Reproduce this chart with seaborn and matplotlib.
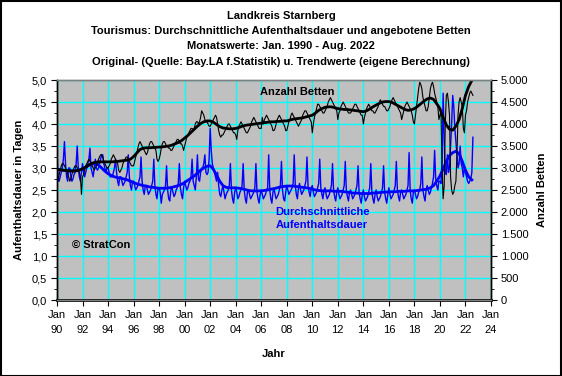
import numpy as np
import pandas as pd
import matplotlib
matplotlib.use("Agg")
import matplotlib.pyplot as plt
import seaborn as sns
from matplotlib.ticker import MultipleLocator, FuncFormatter, FixedLocator

# --- Daten: Monatswerte Jan. 1990 - Aug. 2022 ---
jahre = list(range(1990, 2023))

# Durchschnittliche Aufenthaltsdauer in Tagen, je Jahr 12 Monate
dauer = [
    [3.4, 2.8, 2.7, 2.8, 2.9, 3.0, 3.2, 3.6, 3.1, 2.8, 2.7, 3.0],
    [3.0, 2.8, 2.7, 2.75, 2.85, 2.9, 3.1, 3.5, 3.0, 2.8, 2.7, 2.9],
    [3.1, 2.9, 2.8, 2.9, 3.0, 3.1, 3.2, 3.45, 3.0, 2.9, 2.8, 3.0],
    [3.2, 3.0, 2.95, 3.0, 3.1, 3.2, 3.3, 3.3, 3.1, 3.0, 2.9, 3.0],
    [3.0, 2.9, 2.8, 2.8, 2.8, 2.9, 3.0, 3.2, 2.9, 2.7, 2.6, 2.8],
    [2.8, 2.7, 2.6, 2.65, 2.7, 2.8, 2.9, 3.3, 2.8, 2.6, 2.5, 2.7],
    [2.7, 2.6, 2.5, 2.55, 2.6, 2.7, 2.8, 3.25, 2.7, 2.5, 2.4, 2.6],
    [2.6, 2.5, 2.4, 2.45, 2.5, 2.6, 2.7, 3.2, 2.6, 2.4, 2.3, 2.55],
    [2.55, 2.45, 2.2, 2.4, 2.45, 2.5, 2.6, 3.05, 2.5, 2.3, 2.25, 2.5],
    [2.55, 2.45, 2.35, 2.4, 2.5, 2.55, 2.65, 3.1, 2.55, 2.4, 2.3, 2.55],
    [2.7, 2.6, 2.5, 2.55, 2.65, 2.7, 2.8, 3.2, 2.7, 2.6, 2.5, 2.8],
    [3.3, 2.75, 2.7, 2.9, 3.0, 3.0, 3.1, 3.3, 2.9, 2.85, 2.9, 3.2],
    [3.9, 3.4, 3.1, 3.0, 2.9, 2.8, 2.7, 2.9, 2.6, 2.4, 2.35, 2.5],
    [2.6, 2.45, 2.3, 2.4, 2.45, 2.5, 2.6, 3.1, 2.5, 2.3, 2.2, 2.45],
    [2.55, 2.45, 2.3, 2.35, 2.45, 2.5, 2.6, 3.1, 2.5, 2.3, 2.2, 2.45],
    [2.5, 2.4, 2.3, 2.35, 2.4, 2.45, 2.55, 3.1, 2.45, 2.3, 2.2, 2.4],
    [2.5, 2.4, 2.3, 2.35, 2.4, 2.5, 2.55, 3.3, 2.5, 2.3, 2.2, 2.45],
    [2.55, 2.4, 2.3, 2.35, 2.4, 2.5, 2.6, 3.15, 2.5, 2.3, 2.25, 2.45],
    [2.6, 2.5, 2.4, 2.45, 2.5, 2.55, 2.65, 3.3, 2.6, 2.4, 2.3, 2.55],
    [2.65, 2.5, 2.4, 2.45, 2.5, 2.6, 2.7, 3.25, 2.6, 2.45, 2.35, 2.55],
    [2.6, 2.45, 2.35, 2.4, 2.45, 2.55, 2.65, 3.2, 2.55, 2.4, 2.3, 2.5],
    [2.55, 2.4, 2.3, 2.35, 2.4, 2.5, 2.6, 3.1, 2.5, 2.35, 2.25, 2.45],
    [2.55, 2.4, 2.3, 2.35, 2.4, 2.5, 2.6, 3.15, 2.5, 2.35, 2.25, 2.45],
    [2.5, 2.4, 2.3, 2.35, 2.4, 2.5, 2.6, 3.05, 2.45, 2.3, 2.2, 2.4],
    [2.5, 2.35, 2.25, 2.3, 2.35, 2.45, 2.55, 3.1, 2.45, 2.3, 2.2, 2.4],
    [2.5, 2.35, 2.25, 2.3, 2.35, 2.45, 2.55, 3.05, 2.45, 2.3, 2.2, 2.4],
    [2.55, 2.4, 2.3, 2.35, 2.4, 2.5, 2.6, 3.15, 2.5, 2.35, 2.25, 2.45],
    [2.5, 2.4, 2.3, 2.35, 2.4, 2.5, 2.6, 3.35, 2.5, 2.3, 2.2, 2.45],
    [2.5, 2.4, 2.3, 2.35, 2.45, 2.5, 2.65, 3.25, 2.5, 2.35, 2.25, 2.5],
    [2.6, 2.5, 2.4, 2.45, 2.55, 2.65, 2.8, 3.4, 2.75, 2.6, 2.5, 2.7],
    [2.7, 2.65, 3.2, 4.7, 3.6, 2.9, 2.85, 3.3, 2.9, 3.0, 3.5, 4.0],
    [4.65, 4.4, 3.9, 3.6, 3.3, 3.0, 3.1, 3.5, 3.1, 3.0, 2.8, 3.0],
    [2.9, 2.8, 2.7, 2.65, 2.7, 2.75, 2.9, 3.7],
]

# Angebotene Betten, je Jahr 12 Monate
betten = [
    [2750, 2700, 2850, 2950, 3050, 3100, 3100, 3050, 3000, 2950, 2850, 2800],
    [2700, 2750, 2850, 2950, 3000, 3050, 3050, 3000, 2950, 2900, 2800, 2400],
    [2800, 2850, 2950, 3050, 3100, 3150, 3200, 3150, 3100, 3050, 3000, 2950],
    [3000, 3050, 3100, 3200, 3250, 3300, 3300, 3250, 3150, 3100, 3050, 3000],
    [3000, 3050, 3100, 3200, 3250, 3300, 3250, 3200, 3150, 3100, 2950, 2900],
    [2950, 3000, 3100, 3150, 3200, 3250, 3250, 3200, 3150, 3100, 3050, 3050],
    [3050, 3150, 3250, 3350, 3450, 3550, 3600, 3550, 3500, 3450, 3400, 3350],
    [3300, 3350, 3450, 3550, 3600, 3600, 3550, 3500, 3450, 3400, 3200, 3150],
    [3200, 3300, 3450, 3550, 3600, 3600, 3550, 3500, 3500, 3450, 3450, 3400],
    [3400, 3450, 3500, 3550, 3600, 3650, 3650, 3600, 3550, 3550, 3500, 3400],
    [3500, 3600, 3700, 3750, 3800, 3850, 3900, 3900, 3850, 3900, 4000, 4050],
    [4050, 4000, 4050, 4150, 4300, 4250, 4200, 4100, 4050, 4050, 4000, 3950],
    [3950, 4000, 4050, 4100, 4150, 4200, 4150, 4000, 3850, 3750, 3700, 3750],
    [3750, 3800, 3850, 3900, 3950, 4000, 4000, 3950, 3900, 3850, 3800, 3800],
    [3750, 3650, 3850, 3950, 4000, 4050, 4000, 3950, 3900, 3850, 3800, 3800],
    [3850, 3900, 3950, 4050, 4100, 4150, 4100, 4050, 4000, 3950, 3900, 3900],
    [3900, 4150, 4000, 4100, 4150, 4200, 4150, 4100, 4050, 4000, 3950, 3850],
    [3850, 3900, 4000, 4100, 4150, 4200, 4150, 4100, 4050, 4000, 3950, 3850],
    [3850, 3950, 4050, 4100, 4200, 4250, 4200, 4150, 4100, 4050, 4000, 3950],
    [4000, 4050, 4100, 4200, 4250, 4300, 4300, 4250, 4200, 4150, 4100, 4050],
    [3800, 4000, 4150, 4250, 4350, 4450, 4450, 4400, 4350, 4300, 4250, 4250],
    [4300, 4350, 4400, 4500, 4550, 4600, 4550, 4500, 4450, 4400, 4350, 4300],
    [4100, 4250, 4300, 4400, 4450, 4500, 4450, 4400, 4350, 4300, 4250, 4250],
    [4250, 4300, 4350, 4400, 4450, 4450, 4400, 4350, 4300, 4250, 4200, 4200],
    [4000, 4150, 4250, 4350, 4400, 4450, 4400, 4350, 4300, 4300, 4250, 4250],
    [4300, 4350, 4400, 4500, 4550, 4500, 4450, 4400, 4400, 4350, 4300, 4300],
    [4350, 4400, 4500, 4550, 4600, 4550, 4500, 4450, 4400, 4350, 4300, 4250],
    [4100, 4200, 4300, 4400, 4450, 4500, 4450, 4400, 4350, 4300, 4200, 4050],
    [4000, 4200, 4400, 4600, 4800, 4950, 4900, 4800, 4600, 4500, 4400, 4300],
    [4300, 4400, 4600, 4800, 4900, 4950, 4850, 4700, 4600, 4500, 4400, 4100],
    [4200, 4300, 3000, 2300, 2600, 4000, 4650, 4700, 4500, 4200, 2800, 2500],
    [2400, 2450, 2600, 2700, 3300, 4200, 4500, 4600, 4500, 4400, 3900, 3800],
    [4200, 4300, 4500, 4600, 4700, 4750, 4700, 4650],
]

# Trendwerte (eigene Berechnung), je Jahr Quartalsanfang Jan/Apr/Jul/Okt
dauer_trend = [
    [2.97, 2.96, 2.95, 2.94], [2.94, 2.93, 2.94, 2.96], [2.98, 3.02, 3.06, 3.09],
    [3.10, 3.07, 3.00, 2.93], [2.87, 2.83, 2.80, 2.78], [2.77, 2.75, 2.73, 2.70],
    [2.67, 2.64, 2.62, 2.60], [2.59, 2.57, 2.56, 2.55], [2.54, 2.54, 2.54, 2.55],
    [2.56, 2.58, 2.60, 2.63], [2.67, 2.72, 2.77, 2.82], [2.88, 2.95, 3.00, 3.04],
    [3.05, 2.97, 2.84, 2.70], [2.60, 2.56, 2.55, 2.55], [2.55, 2.54, 2.53, 2.51],
    [2.49, 2.48, 2.48, 2.48], [2.48, 2.49, 2.50, 2.52], [2.53, 2.55, 2.57, 2.58],
    [2.59, 2.59, 2.59, 2.58], [2.57, 2.56, 2.55, 2.54], [2.52, 2.50, 2.49, 2.48],
    [2.48, 2.48, 2.48, 2.47], [2.47, 2.47, 2.46, 2.45], [2.44, 2.43, 2.43, 2.42],
    [2.42, 2.42, 2.42, 2.43], [2.44, 2.44, 2.45, 2.45], [2.46, 2.46, 2.46, 2.47],
    [2.47, 2.47, 2.48, 2.48], [2.48, 2.49, 2.50, 2.51], [2.52, 2.55, 2.60, 2.70],
    [2.82, 2.98, 3.15, 3.28], [3.35, 3.38, 3.33, 3.15], [2.95, 2.80, 2.73],
]

betten_trend = [
    [2970, 2960, 2950, 2940], [2935, 2930, 2935, 2950], [2980, 3020, 3070, 3110],
    [3130, 3140, 3140, 3140], [3140, 3140, 3145, 3150], [3160, 3170, 3180, 3200],
    [3260, 3340, 3420, 3450], [3460, 3460, 3465, 3470], [3475, 3480, 3490, 3500],
    [3520, 3550, 3580, 3620], [3680, 3740, 3810, 3880], [3950, 4010, 4050, 4070],
    [4070, 4040, 3990, 3940], [3910, 3900, 3890, 3890], [3900, 3920, 3950, 3970],
    [3980, 3990, 4000, 4010], [4020, 4030, 4040, 4050], [4050, 4060, 4060, 4070],
    [4070, 4090, 4110, 4120], [4130, 4140, 4160, 4180], [4200, 4250, 4310, 4350],
    [4380, 4390, 4390, 4370], [4350, 4340, 4330, 4330], [4320, 4310, 4300, 4290],
    [4280, 4300, 4340, 4390], [4430, 4470, 4500, 4510], [4510, 4490, 4450, 4410],
    [4370, 4330, 4310, 4320], [4350, 4400, 4460, 4520], [4570, 4590, 4560, 4460],
    [4350, 4150, 3980, 3880], [3860, 3950, 4100, 4350], [4650, 4850, 4990],
]


def monatsreihe(werte):
    x, y = [], []
    for j, reihe in zip(jahre, werte):
        for m, v in enumerate(reihe):
            x.append(j + m / 12)
            y.append(v)
    return pd.DataFrame({"Jahr": x, "Wert": y})


def quartalsreihe(werte):
    x, y = [], []
    for j, reihe in zip(jahre, werte):
        for q, v in enumerate(reihe):
            x.append(j + q / 4)
            y.append(v)
    return pd.DataFrame({"Jahr": x, "Wert": y})


df_dauer = monatsreihe(dauer)
df_betten = monatsreihe(betten)
df_dauer_t = quartalsreihe(dauer_trend)
df_betten_t = quartalsreihe(betten_trend)

# --- Grafik ---
plt.rcParams["font.family"] = ["Liberation Sans", "DejaVu Sans"]
plt.rcParams["font.size"] = 8

fig = plt.figure(figsize=(5.62, 3.76), dpi=100)
fig.patch.set_facecolor("white")
ax = fig.add_axes([57 / 562, 1 - 300 / 376, 434 / 562, 220 / 376])
ax.set_facecolor("#C0C0C0")

blau = "#0000FF"
sns.lineplot(data=df_dauer, x="Jahr", y="Wert", ax=ax, color=blau, lw=1, estimator=None)
sns.lineplot(data=df_dauer_t, x="Jahr", y="Wert", ax=ax, color=blau, lw=2, estimator=None)

ax2 = ax.twinx()
sns.lineplot(data=df_betten, x="Jahr", y="Wert", ax=ax2, color="black", lw=0.8, estimator=None)
sns.lineplot(data=df_betten_t, x="Jahr", y="Wert", ax=ax2, color="black", lw=2, estimator=None)

ax.set_xlim(1990, 2024)
ax.set_ylim(0, 5)
ax2.set_ylim(0, 5000)

xticks = list(range(1990, 2025, 2))
ax.xaxis.set_major_locator(FixedLocator(xticks))
ax.set_xticklabels(["Jan\n%02d" % (t % 100) for t in xticks], linespacing=1.7)
ax.yaxis.set_major_locator(MultipleLocator(0.5))
ax.yaxis.set_minor_locator(MultipleLocator(0.25))
ax.yaxis.set_major_formatter(FuncFormatter(lambda v, p: ("%.1f" % v).replace(".", ",")))
ax2.yaxis.set_major_locator(MultipleLocator(500))
ax2.yaxis.set_minor_locator(MultipleLocator(250))
ax2.yaxis.set_major_formatter(FuncFormatter(lambda v, p: "{:,.0f}".format(v).replace(",", ".")))

ax.grid(True, which="major", color="#00FFFF", lw=1)
ax.set_axisbelow(True)
ax.tick_params(axis="both", which="major", length=4, color="black", labelsize=8, pad=3)
ax.tick_params(axis="y", which="minor", length=2)
ax2.tick_params(axis="y", which="major", length=4, labelsize=8, pad=3)
ax2.tick_params(axis="y", which="minor", length=2)

for a in (ax, ax2):
    for s in a.spines.values():
        s.set_color("#808080")
        s.set_linewidth(1)
    a.spines["left"].set_color("black")
    a.spines["right"].set_color("black")
ax.spines["bottom"].set_color("black")
ax.spines["bottom"].set_linewidth(2)

ax.set_xlabel("Jahr", fontweight="bold", fontsize=8, labelpad=10)
ax.set_ylabel("Aufenthaltsdauer in Tagen", fontweight="bold", fontsize=8, labelpad=6)
ax2.set_ylabel("Anzahl Betten", fontweight="bold", fontsize=8, labelpad=6)

ax.text(2008.8, 4.73, "Anzahl Betten", color="black", fontweight="bold",
        fontsize=8, ha="center", va="center")
ax.text(2007.1, 1.85, "Durchschnittliche\nAufenthaltsdauer", color=blau,
        fontweight="bold", fontsize=8, ha="left", va="center", linespacing=1.4)
ax.text(1991.2, 1.25, "© StratCon", color="black", fontweight="bold",
        fontsize=8, ha="left", va="center")

titel = ["Landkreis Starnberg",
         "Tourismus: Durchschnittliche Aufenthaltsdauer und angebotene Betten",
         "Monatswerte: Jan. 1990 - Aug. 2022",
         "Original- (Quelle: Bay.LA f.Statistik) u. Trendwerte (eigene Berechnung)"]
for i, t in enumerate(titel):
    fig.text(0.5, 1 - (16 + 15.2 * i) / 376, t, ha="center", va="center",
             fontweight="bold", fontsize=8)

fig.add_artist(plt.Rectangle((0.001, 0.001), 0.997, 0.997, transform=fig.transFigure,
                             fill=False, edgecolor="black", lw=1.5))

fig.savefig("out.png", dpi=100)
